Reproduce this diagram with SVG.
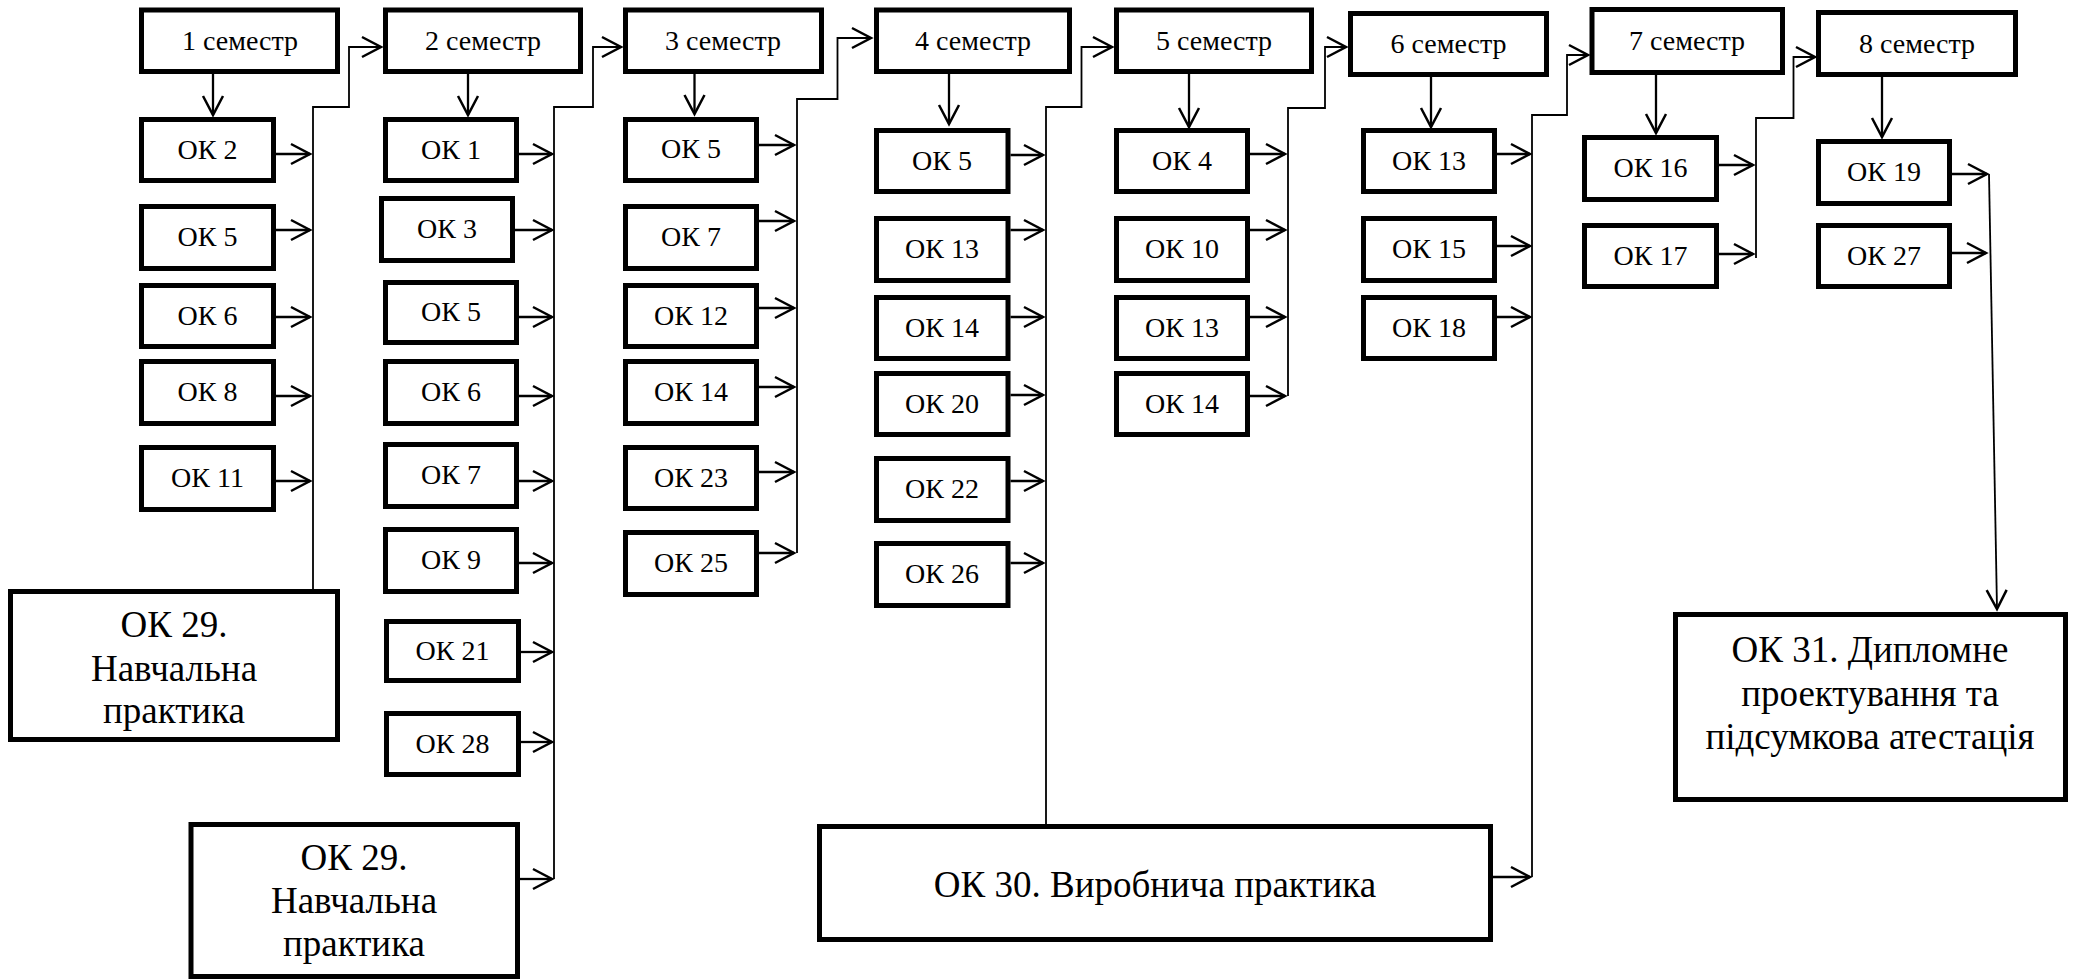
<svg xmlns="http://www.w3.org/2000/svg" width="2073" height="980" viewBox="0 0 2073 980">
<defs>
<marker id="ah" markerUnits="userSpaceOnUse" markerWidth="24" markerHeight="24" viewBox="0 0 24 24" refX="21" refY="12" orient="auto"><path d="M2,2 L21,12 L2,22" fill="none" stroke="#000" stroke-width="2.5"/></marker>
<style>
.box{fill:#fff;stroke:#000;stroke-width:5}
.t{font-family:"Liberation Serif","Times New Roman",serif;font-size:28px;text-anchor:middle;fill:#000}
.tb{font-size:37px}
.arr{stroke:#000;stroke-width:2.3;fill:none;marker-end:url(#ah)}
.bus{stroke:#000;stroke-width:1.8;fill:none;marker-end:url(#ah)}
</style>
</defs>
<rect width="2073" height="980" fill="#fff"/>
<g id="connectors">
<line class="arr" x1="213" y1="74" x2="213" y2="115"/>
<line class="arr" x1="468" y1="74" x2="468" y2="115"/>
<line class="arr" x1="694.5" y1="74" x2="694.5" y2="114"/>
<line class="arr" x1="949" y1="74" x2="949" y2="124"/>
<line class="arr" x1="1189" y1="74" x2="1189" y2="127"/>
<line class="arr" x1="1431" y1="77" x2="1431" y2="127"/>
<line class="arr" x1="1656" y1="75" x2="1656" y2="133"/>
<line class="arr" x1="1882" y1="77" x2="1882" y2="137"/>
<line class="arr" x1="276" y1="154" x2="310" y2="154"/>
<line class="arr" x1="276" y1="230" x2="310" y2="230"/>
<line class="arr" x1="276" y1="317" x2="310" y2="317"/>
<line class="arr" x1="276" y1="396" x2="310" y2="396"/>
<line class="arr" x1="276" y1="481" x2="310" y2="481"/>
<polyline class="bus" points="313,589 313,107 349,107 349,47 381,47"/>
<line class="arr" x1="519" y1="154" x2="552" y2="154"/>
<line class="arr" x1="515" y1="230" x2="552" y2="230"/>
<line class="arr" x1="519" y1="317" x2="552" y2="317"/>
<line class="arr" x1="519" y1="396" x2="552" y2="396"/>
<line class="arr" x1="519" y1="481" x2="552" y2="481"/>
<line class="arr" x1="519" y1="563" x2="552" y2="563"/>
<line class="arr" x1="521" y1="652" x2="552" y2="652"/>
<line class="arr" x1="521" y1="742" x2="552" y2="742"/>
<line class="arr" x1="520" y1="879" x2="552" y2="879"/>
<polyline class="bus" points="554,879 554,107 593,107 593,47 621,47"/>
<line class="arr" x1="759" y1="145" x2="794" y2="145"/>
<line class="arr" x1="759" y1="221" x2="794" y2="221"/>
<line class="arr" x1="759" y1="308" x2="794" y2="308"/>
<line class="arr" x1="759" y1="387" x2="794" y2="387"/>
<line class="arr" x1="759" y1="472" x2="794" y2="472"/>
<line class="arr" x1="759" y1="553" x2="794" y2="553"/>
<polyline class="bus" points="797,553 797,99 837.5,99 837.5,38 871,38"/>
<line class="arr" x1="1010.5" y1="155" x2="1043" y2="155"/>
<line class="arr" x1="1010.5" y1="230" x2="1043" y2="230"/>
<line class="arr" x1="1010.5" y1="317" x2="1043" y2="317"/>
<line class="arr" x1="1010.5" y1="395" x2="1043" y2="395"/>
<line class="arr" x1="1010.5" y1="481" x2="1043" y2="481"/>
<line class="arr" x1="1010.5" y1="563" x2="1043" y2="563"/>
<polyline class="bus" points="1046,824 1046,107 1081.5,107 1081.5,47 1112,47"/>
<line class="arr" x1="1250" y1="154" x2="1285" y2="154"/>
<line class="arr" x1="1250" y1="230" x2="1285" y2="230"/>
<line class="arr" x1="1250" y1="317" x2="1285" y2="317"/>
<line class="arr" x1="1250" y1="396" x2="1285" y2="396"/>
<polyline class="bus" points="1288,396 1288,108 1325,108 1325,47 1346,47"/>
<line class="arr" x1="1497" y1="154" x2="1530" y2="154"/>
<line class="arr" x1="1497" y1="246" x2="1530" y2="246"/>
<line class="arr" x1="1497" y1="317" x2="1530" y2="317"/>
<line class="arr" x1="1493" y1="877" x2="1530" y2="877"/>
<polyline class="bus" points="1532,877 1532,115 1567,115 1567,55 1588,55"/>
<line class="arr" x1="1719" y1="165" x2="1753" y2="165"/>
<line class="arr" x1="1719" y1="254" x2="1753" y2="254"/>
<polyline class="bus" points="1756,258 1756,118 1793.5,118 1793.5,57 1815,57"/>
<line class="arr" x1="1952" y1="174" x2="1987" y2="174"/>
<line class="arr" x1="1952" y1="253" x2="1986" y2="253"/>
<line class="bus" x1="1989" y1="174" x2="1997" y2="609"/>
</g>
<g id="sem1"><rect class="box" x="141.5" y="10" width="196" height="61.5"/><text class="t" x="240" y="49.5">1 семестр</text></g>
<g id="sem2"><rect class="box" x="385.5" y="10" width="195" height="61.5"/><text class="t" x="483" y="49.5">2 семестр</text></g>
<g id="sem3"><rect class="box" x="625.5" y="10" width="196" height="61.5"/><text class="t" x="723" y="49.5">3 семестр</text></g>
<g id="sem4"><rect class="box" x="876.5" y="10" width="193" height="61.5"/><text class="t" x="973" y="49.5">4 семестр</text></g>
<g id="sem5"><rect class="box" x="1116.5" y="10" width="195" height="61.5"/><text class="t" x="1214" y="49.5">5 семестр</text></g>
<g id="sem6"><rect class="box" x="1350.5" y="13.5" width="196" height="61"/><text class="t" x="1448.5" y="52.5">6 семестр</text></g>
<g id="sem7"><rect class="box" x="1592" y="9.5" width="190.5" height="63"/><text class="t" x="1687" y="49.5">7 семестр</text></g>
<g id="sem8"><rect class="box" x="1818.5" y="12.5" width="197" height="62"/><text class="t" x="1917" y="52.5">8 семестр</text></g>
<g id="c1-ok2"><rect class="box" x="141.5" y="119.5" width="132" height="61"/><text class="t" x="207.5" y="158.5">ОК 2</text></g>
<g id="c1-ok5"><rect class="box" x="141.5" y="206.5" width="132" height="62"/><text class="t" x="207.5" y="246">ОК 5</text></g>
<g id="c1-ok6"><rect class="box" x="141.5" y="285.5" width="132" height="61"/><text class="t" x="207.5" y="324.5">ОК 6</text></g>
<g id="c1-ok8"><rect class="box" x="141.5" y="361.5" width="132" height="62"/><text class="t" x="207.5" y="401">ОК 8</text></g>
<g id="c1-ok11"><rect class="box" x="141.5" y="447.5" width="132" height="62"/><text class="t" x="207.5" y="487">ОК 11</text></g>
<g id="ok29a"><rect class="box" x="10.5" y="591.5" width="327" height="148"/><text class="t tb" x="174" y="637">ОК 29.</text><text class="t tb" x="174" y="681">Навчальна</text><text class="t tb" x="174" y="723">практика</text></g>
<g id="c2-ok1"><rect class="box" x="385.5" y="119.5" width="131" height="61"/><text class="t" x="451" y="158.5">ОК 1</text></g>
<g id="c2-ok3"><rect class="box" x="381.5" y="198.5" width="131" height="62"/><text class="t" x="447" y="238">ОК 3</text></g>
<g id="c2-ok5"><rect class="box" x="385.5" y="282.5" width="131" height="60"/><text class="t" x="451" y="321">ОК 5</text></g>
<g id="c2-ok6"><rect class="box" x="385.5" y="361.5" width="131" height="62"/><text class="t" x="451" y="401">ОК 6</text></g>
<g id="c2-ok7"><rect class="box" x="385.5" y="444.5" width="131" height="62"/><text class="t" x="451" y="484">ОК 7</text></g>
<g id="c2-ok9"><rect class="box" x="385.5" y="529.5" width="131" height="62"/><text class="t" x="451" y="569">ОК 9</text></g>
<g id="c2-ok21"><rect class="box" x="386.5" y="621.5" width="132" height="59"/><text class="t" x="452.5" y="659.5">ОК 21</text></g>
<g id="c2-ok28"><rect class="box" x="386.5" y="713.5" width="132" height="61"/><text class="t" x="452.5" y="752.5">ОК 28</text></g>
<g id="ok29b"><rect class="box" x="191" y="824.5" width="326.5" height="152"/><text class="t tb" x="354" y="870">ОК 29.</text><text class="t tb" x="354" y="913">Навчальна</text><text class="t tb" x="354" y="956">практика</text></g>
<g id="c3-ok5"><rect class="box" x="625.5" y="119.5" width="131" height="61"/><text class="t" x="691" y="158">ОК 5</text></g>
<g id="c3-ok7"><rect class="box" x="625.5" y="206.5" width="131" height="62"/><text class="t" x="691" y="246">ОК 7</text></g>
<g id="c3-ok12"><rect class="box" x="625.5" y="285.5" width="131" height="61"/><text class="t" x="691" y="324.5">ОК 12</text></g>
<g id="c3-ok14"><rect class="box" x="625.5" y="361.5" width="131" height="62"/><text class="t" x="691" y="401">ОК 14</text></g>
<g id="c3-ok23"><rect class="box" x="625.5" y="447.5" width="131" height="61"/><text class="t" x="691" y="486.5">ОК 23</text></g>
<g id="c3-ok25"><rect class="box" x="625.5" y="532.5" width="131" height="62"/><text class="t" x="691" y="572">ОК 25</text></g>
<g id="c4-ok5"><rect class="box" x="876.5" y="130.5" width="131.5" height="61"/><text class="t" x="942" y="169.5">ОК 5</text></g>
<g id="c4-ok13"><rect class="box" x="876.5" y="218.5" width="131.5" height="62"/><text class="t" x="942" y="258">ОК 13</text></g>
<g id="c4-ok14"><rect class="box" x="876.5" y="297.5" width="131.5" height="61"/><text class="t" x="942" y="336.5">ОК 14</text></g>
<g id="c4-ok20"><rect class="box" x="876.5" y="373.5" width="131.5" height="61"/><text class="t" x="942" y="412.5">ОК 20</text></g>
<g id="c4-ok22"><rect class="box" x="876.5" y="458.5" width="131.5" height="62"/><text class="t" x="942" y="498">ОК 22</text></g>
<g id="c4-ok26"><rect class="box" x="876.5" y="543.5" width="131.5" height="62"/><text class="t" x="942" y="583">ОК 26</text></g>
<g id="ok30"><rect class="box" x="819.5" y="826.5" width="671" height="113"/><text class="t tb" x="1155" y="897">ОК 30. Виробнича практика</text></g>
<g id="c5-ok4"><rect class="box" x="1116.5" y="130.5" width="131" height="61"/><text class="t" x="1182" y="169.5">ОК 4</text></g>
<g id="c5-ok10"><rect class="box" x="1116.5" y="218.5" width="131" height="62"/><text class="t" x="1182" y="258">ОК 10</text></g>
<g id="c5-ok13"><rect class="box" x="1116.5" y="297.5" width="131" height="61"/><text class="t" x="1182" y="336.5">ОК 13</text></g>
<g id="c5-ok14"><rect class="box" x="1116.5" y="373.5" width="131" height="61"/><text class="t" x="1182" y="412.5">ОК 14</text></g>
<g id="c6-ok13"><rect class="box" x="1363.5" y="130.5" width="131" height="61"/><text class="t" x="1429" y="169.5">ОК 13</text></g>
<g id="c6-ok15"><rect class="box" x="1363.5" y="218.5" width="131" height="62"/><text class="t" x="1429" y="258">ОК 15</text></g>
<g id="c6-ok18"><rect class="box" x="1363.5" y="297.5" width="131" height="61"/><text class="t" x="1429" y="336.5">ОК 18</text></g>
<g id="c7-ok16"><rect class="box" x="1584.5" y="137.5" width="132" height="62"/><text class="t" x="1650.5" y="177">ОК 16</text></g>
<g id="c7-ok17"><rect class="box" x="1584.5" y="225.5" width="132" height="61"/><text class="t" x="1650.5" y="264.5">ОК 17</text></g>
<g id="c8-ok19"><rect class="box" x="1818.5" y="141.5" width="131" height="62"/><text class="t" x="1884" y="181">ОК 19</text></g>
<g id="c8-ok27"><rect class="box" x="1818.5" y="225.5" width="131" height="61"/><text class="t" x="1884" y="264.5">ОК 27</text></g>
<g id="ok31"><rect class="box" x="1675.5" y="614.5" width="390" height="185"/><text class="t tb" x="1870" y="662">ОК 31. Дипломне</text><text class="t tb" x="1870" y="706">проектування та</text><text class="t tb" x="1870" y="749">підсумкова атестація</text></g>
</svg>
